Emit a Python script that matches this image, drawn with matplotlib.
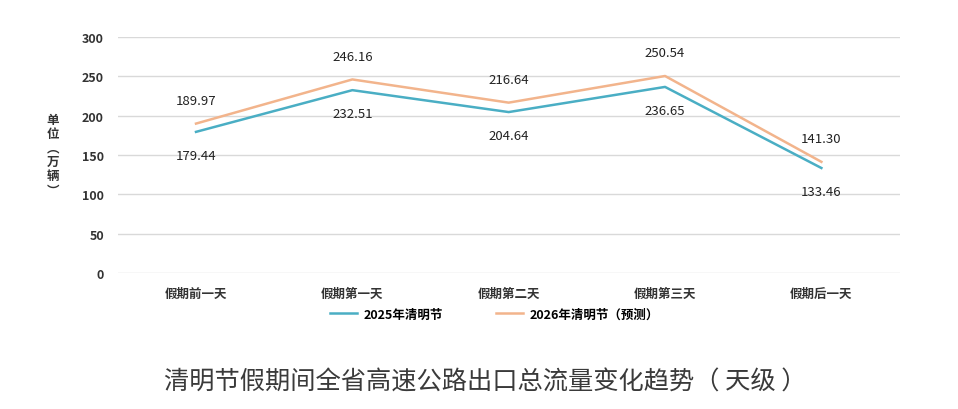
import matplotlib.pyplot as plt

plt.rcParams['font.family'] = ['Noto Sans CJK SC', 'DejaVu Sans']

# données
jours = ['假期前一天', '假期第一天', '假期第二天', '假期第三天', '假期后一天']
flux_2025 = [179.44, 232.51, 204.64, 236.65, 133.46]
flux_2026 = [189.97, 246.16, 216.64, 250.54, 141.30]
y_ticks = [0, 50, 100, 150, 200, 250, 300]

fig = plt.figure(figsize=(9.58, 4.1), dpi=100)
ax = fig.add_axes([0.123, 0.332, 0.816, 0.575])

x = range(len(jours))
ax.plot(x, flux_2025, color='#4aaec4', lw=1.8, label='2025年清明节')
ax.plot(x, flux_2026, color='#f2b48c', lw=1.8, label='2026年清明节（预测）')

for i in x:
    ax.annotate(f'{flux_2026[i]:.2f}', (i, flux_2026[i]), xytext=(0, 12), textcoords='offset points',
                ha='center', va='bottom', fontsize=9.5, fontweight='medium', color='#222222')
    ax.annotate(f'{flux_2025[i]:.2f}', (i, flux_2025[i]), xytext=(0, -12), textcoords='offset points',
                ha='center', va='top', fontsize=9.5, fontweight='medium', color='#222222')

ax.set_xlim(-0.5, len(jours) - 0.5)
ax.set_ylim(0, 300)
ax.set_yticks(y_ticks)
ax.set_xticks(list(x))
ax.set_xticklabels(jours, fontsize=9, fontweight='bold', color='#333333')
for lab in ax.get_yticklabels():
    lab.set_fontsize(9)
    lab.set_fontweight('bold')
    lab.set_color('#333333')
ax.grid(axis='y', color='#d9d9d9', lw=1)
ax.set_axisbelow(True)
for s in ax.spines.values():
    s.set_visible(False)
ax.tick_params(length=0, pad=10)

# unité verticale
fig.text(0.055, 0.62, '单\n位\n︵\n万\n辆\n︶', ha='center', va='center', fontsize=9,
         fontweight='bold', color='#333333', linespacing=1.1)

fig.legend(loc='center', bbox_to_anchor=(0.516, 0.232), ncol=2, frameon=False,
           handlelength=2.2, handletextpad=0.5, columnspacing=4.2,
           prop={'weight': 'bold', 'size': 9})

fig.text(0.5065, 0.067, '清明节假期间全省高速公路出口总流量变化趋势（ 天级 ）', ha='center', va='center',
         fontsize=18.2, color='#3a3a3a')

plt.savefig('out.png', dpi=100)
